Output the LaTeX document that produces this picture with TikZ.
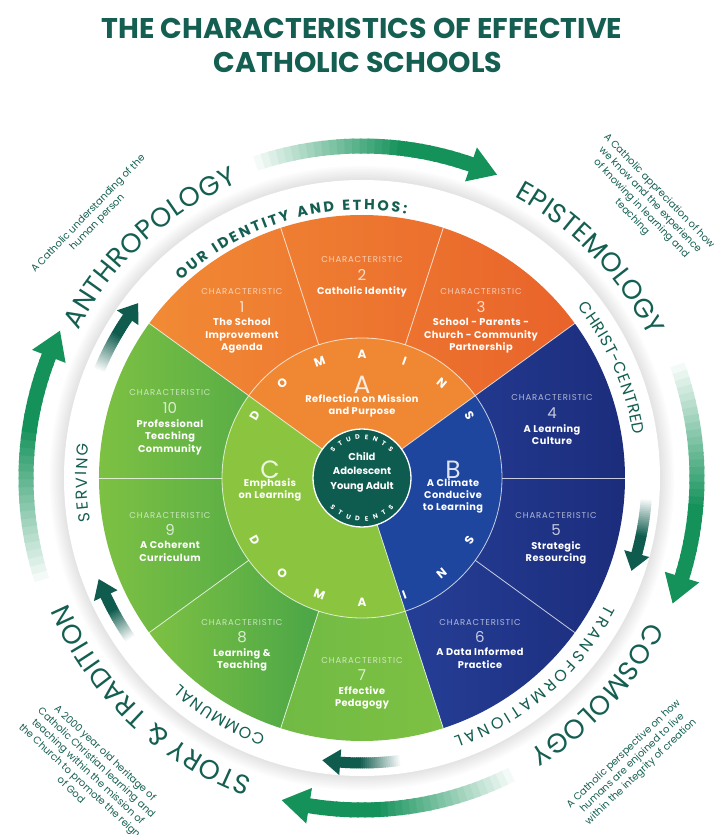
\documentclass[tikz,border=0pt]{standalone}
\usepackage{fontspec}
\setmainfont{Poppins}
\newfontfamily\widefont{Poppins}[LetterSpace=10]
\newfontfamily\namefont{Poppins}[LetterSpace=4]
\usetikzlibrary{positioning,decorations.text}

\definecolor{tealtext}{HTML}{145F51}
\definecolor{orangeA}{HTML}{F08833}
\definecolor{orangeL}{HTML}{F18A35}
\definecolor{orangeR}{HTML}{E9632A}
\definecolor{blueL}{HTML}{27429B}
\definecolor{blueR}{HTML}{1B2B7A}
\definecolor{blueB}{HTML}{1E469E}
\definecolor{greenL}{HTML}{7DC143}
\definecolor{greenR}{HTML}{3E9F48}
\definecolor{greenC}{HTML}{8BC53F}
\definecolor{studentteal}{HTML}{0E5C50}
\definecolor{arrowgreen}{HTML}{14925A}
\definecolor{arrowteal}{HTML}{0F5C4E}

\tikzstyle{titletext}=[font=\bfseries\fontsize{28.5}{31}\selectfont, text=tealtext, inner sep=0pt]
\tikzstyle{chartag}=[font=\widefont\fontsize{8.5}{9}\selectfont, text=white, text opacity=0.65, inner sep=0pt, text height=6pt, text depth=0pt]
\tikzstyle{charnum}=[font=\fontsize{15}{16}\selectfont, text=white, text opacity=0.75, inner sep=0pt, text height=10.5pt, text depth=0pt]
\tikzstyle{chartitle}=[font=\namefont\bfseries\fontsize{9.8}{12.5}\selectfont, text=white, align=center, inner sep=0pt]
\tikzstyle{domainbig}=[font=\fontsize{25}{26}\selectfont, text=white, text opacity=0.85, inner sep=0pt]
\tikzstyle{domaintext}=[font=\namefont\bfseries\fontsize{9.8}{12}\selectfont, text=white, align=center, inner sep=0pt]
\tikzstyle{domletter}=[font=\bfseries\fontsize{12}{13}\selectfont, text=white, inner sep=0pt]
\tikzstyle{studletter}=[font=\bfseries\fontsize{6.5}{7}\selectfont, text=white, inner sep=0pt]
\tikzstyle{centretext}=[font=\bfseries\fontsize{10}{14.5}\selectfont, text=white, align=center, inner sep=0pt]
\tikzstyle{desctext}=[font=\fontsize{10}{12.5}\selectfont, text=tealtext, align=center, inner sep=0pt]
\tikzstyle{divider}=[white, opacity=0.75, line width=0.8pt]

% curved arrow round the wheel, fading in from the tail
% #1 tail angle, #2 tip angle, #3 radius, #4 shaft, #5 head width, #6 head length, #7 colour
\newcommand{\ringarrow}[7]{
  \pgfmathsetmacro{\hdeg}{#6/#3*180/pi}
  \pgfmathsetmacro{\send}{#2+\hdeg}
  \foreach \k in {0,...,29}{
    \pgfmathsetmacro{\aa}{#1+(\send-#1)*\k/30}
    \pgfmathsetmacro{\ab}{#1+(\send-#1)*(\k+1.3)/30}
    \pgfmathtruncatemacro{\pc}{min(100,\k*100/20)}
    \draw[#7!\pc!white, line width=#4] (\aa:#3) arc[start angle=\aa, end angle=\ab, radius=#3];
  }
  \pgfmathsetmacro{\ri}{#3-#5/2}
  \pgfmathsetmacro{\ro}{#3+#5/2}
  \fill[#7] (\send:\ri) -- (\send:\ro) -- (#2:#3) -- cycle;
}

% text set clockwise along an arc
\newcommand{\arclabel}[5]{
  \path[decorate, decoration={text along path, text align={fit to path}, text={|#4|#5}}]
    (#1:#3) arc[start angle=#1, end angle=#2, radius=#3];
}

\begin{document}
\begin{tikzpicture}[x=1pt, y=1pt]

\useasboundingbox (-362,-357) rectangle (352,478);

% titles
\node[titletext] (title1) at (0,450) {THE CHARACTERISTICS OF EFFECTIVE};
\node[titletext] (title2) at (-4,416) {CATHOLIC SCHOOLS};

% white ring with soft shadow
\foreach \s in {0,...,9} \fill[black, opacity=0.012] (0,0) circle (298+1.6*\s);
\fill[white] (0,0) circle (298);

% characteristics
\shade[left color=orangeL, right color=orangeR] (0,0) -- (144:263) arc[start angle=144, end angle=36, radius=263] -- cycle;
\shade[left color=blueL, right color=blueR] (0,0) -- (36:263) arc[start angle=36, end angle=-72, radius=263] -- cycle;
\shade[left color=greenL, right color=greenR] (0,0) -- (144:263) arc[start angle=144, end angle=180, radius=263] -- cycle;
\shade[left color=greenL, right color=greenR] (0,0) -- (180:263) arc[start angle=180, end angle=216, radius=263] -- cycle;
\shade[left color=greenL, right color=greenR] (0,0) -- (216:263) arc[start angle=216, end angle=252, radius=263] -- cycle;
\shade[left color=greenL!80!greenR, right color=greenL] (0,0) -- (252:263) arc[start angle=252, end angle=288, radius=263] -- cycle;
\foreach \a in {0,36,...,324} \draw[divider] (\a:140) -- (\a:263);

% domains
\fill[orangeA] (0,0) -- (36:140) arc[start angle=36, end angle=144, radius=140] -- cycle;
\fill[blueB] (0,0) -- (-72:140) arc[start angle=-72, end angle=36, radius=140] -- cycle;
\fill[greenC] (0,0) -- (144:140) arc[start angle=144, end angle=288, radius=140] -- cycle;
\foreach \a in {36,144,288} \draw[divider] (\a:49) -- (\a:140);
\draw[divider] (0,0) circle (140);
\filldraw[fill=studentteal, draw=white, line width=1.3pt] (0,0) circle (49);

\foreach \l [count=\i] in {D,O,M,A,I,N,S}{
  \pgfmathsetmacro{\ang}{170-20*\i}
  \node[domletter, rotate=\ang-90] at (\ang:124) {\l};
  \pgfmathsetmacro{\ang}{-170+20*\i}
  \node[domletter, rotate=\ang+90] at (\ang:124) {\l};
}
\foreach \l [count=\i] in {S,T,U,D,E,N,T,S}{
  \pgfmathsetmacro{\ang}{135-(\i-1)*90/7}
  \node[studletter, rotate=\ang-90] at (\ang:41) {\l};
  \pgfmathsetmacro{\ang}{-135+(\i-1)*90/7}
  \node[studletter, rotate=\ang+90] at (\ang:41) {\l};
}

\node[centretext] (centre) at (0,6) {Child\\Adolescent\\Young Adult};

\node[domainbig] (domA) at (0,93) {A};
\node[domaintext] (textA) at (0,72) {Reflection on Mission\\and Purpose};
\node[domainbig] (domB) at (91,8) {B};
\node[domaintext] (textB) at (91,-18) {A Climate\\Conducive\\to Learning};
\node[domainbig] (domC) at (-92,8) {C};
\node[domaintext] (textC) at (-92,-12) {Emphasis\\on Learning};

% the ten characteristics
\node[chartag] (tag1) at (-120,186) {CHARACTERISTIC};
\node[charnum, below=7pt of tag1] (num1) {1};
\node[chartitle, below=5pt of num1] (name1) {The School\\Improvement\\Agenda};
\node[chartag] (tag2) at (0,218) {CHARACTERISTIC};
\node[charnum, below=7pt of tag2] (num2) {2};
\node[chartitle, below=5pt of num2] (name2) {Catholic Identity};
\node[chartag] (tag3) at (119,186) {CHARACTERISTIC};
\node[charnum, below=7pt of tag3] (num3) {3};
\node[chartitle, below=5pt of num3] (name3) {School - Parents -\\Church - Community\\Partnership};
\node[chartag] (tag4) at (190,80) {CHARACTERISTIC};
\node[charnum, below=7pt of tag4] (num4) {4};
\node[chartitle, below=5pt of num4] (name4) {A Learning\\Culture};
\node[chartag] (tag5) at (194,-37) {CHARACTERISTIC};
\node[charnum, below=7pt of tag5] (num5) {5};
\node[chartitle, below=5pt of num5] (name5) {Strategic\\Resourcing};
\node[chartag] (tag6) at (118,-144) {CHARACTERISTIC};
\node[charnum, below=7pt of tag6] (num6) {6};
\node[chartitle, below=5pt of num6] (name6) {A Data Informed\\Practice};
\node[chartag] (tag7) at (0,-182) {CHARACTERISTIC};
\node[charnum, below=7pt of tag7] (num7) {7};
\node[chartitle, below=5pt of num7] (name7) {Effective\\Pedagogy};
\node[chartag] (tag8) at (-120,-144) {CHARACTERISTIC};
\node[charnum, below=7pt of tag8] (num8) {8};
\node[chartitle, below=5pt of num8] (name8) {Learning \&\\Teaching};
\node[chartag] (tag9) at (-192,-37) {CHARACTERISTIC};
\node[charnum, below=7pt of tag9] (num9) {9};
\node[chartitle, below=5pt of num9] (name9) {A Coherent\\Curriculum};
\node[chartag] (tag10) at (-192,85) {CHARACTERISTIC};
\node[charnum, below=7pt of tag10] (num10) {10};
\node[chartitle, below=5pt of num10] (name10) {Professional\\Teaching\\Community};

% words on the white ring
\arclabel{132.5}{80.5}{268}{\color{tealtext}\bfseries\fontsize{14.5}{15}\selectfont}{OUR IDENTITY AND ETHOS:}
\arclabel{189}{173}{275}{\color{tealtext}\fontsize{16}{17}\selectfont}{SERVING}
\arclabel{38.5}{9}{275}{\color{tealtext}\fontsize{16}{17}\selectfont}{CHRIST-CENTRED}
\arclabel{-27.5}{-70.5}{275}{\color{tealtext}\fontsize{16}{17}\selectfont}{TRANSFORMATIONAL}
\arclabel{-110.5}{-131.5}{275}{\color{tealtext}\fontsize{16}{17}\selectfont}{COMMUNAL}

% outer words
\arclabel{152.5}{112.8}{320}{\color{tealtext}\fontsize{27}{30}\selectfont}{ANTHROPOLOGY}
\arclabel{61.5}{26.3}{320}{\color{tealtext}\fontsize{27}{30}\selectfont}{EPISTEMOLOGY}
\arclabel{-26.7}{-58.5}{320}{\color{tealtext}\fontsize{27}{30}\selectfont}{COSMOLOGY}
\arclabel{-110}{-157}{320}{\color{tealtext}\fontsize{27}{30}\selectfont}{STORY {\&} TRADITION}

\node[desctext, rotate=46] (anthrodesc) at (136:374) {A Catholic understanding of the\\human person};
\node[desctext, rotate=-46] (epistdesc) at (44:394) {A Catholic appreciation of how\\we know and the experience\\of knowing in learning and\\teaching};
\node[desctext, rotate=43.5] (cosmodesc) at (-46.5:393) {A Catholic perspective on how\\humans are enjoined to live\\within the integrity of creation};
\node[desctext, rotate=-43] (storydesc) at (-133:401) {A 2000 year old heritage of\\Catholic Christian learning and\\teaching within the mission of\\the Church to promote the reign\\of God};

% arrows
\ringarrow{110}{66}{332}{15}{36}{28}{arrowgreen}
\ringarrow{21}{-22}{335}{15}{36}{28}{arrowgreen}
\ringarrow{-62}{-104}{332}{15}{36}{28}{arrowgreen}
\ringarrow{199}{154}{336}{15}{36}{28}{arrowgreen}
\ringarrow{158}{142}{284}{11}{26}{18}{arrowteal}
\ringarrow{-4}{-19}{285}{11}{26}{18}{arrowteal}
\ringarrow{-82}{-98}{285}{11}{26}{18}{arrowteal}
\ringarrow{215}{201}{282}{11}{26}{18}{arrowteal}

\end{tikzpicture}
\end{document}
